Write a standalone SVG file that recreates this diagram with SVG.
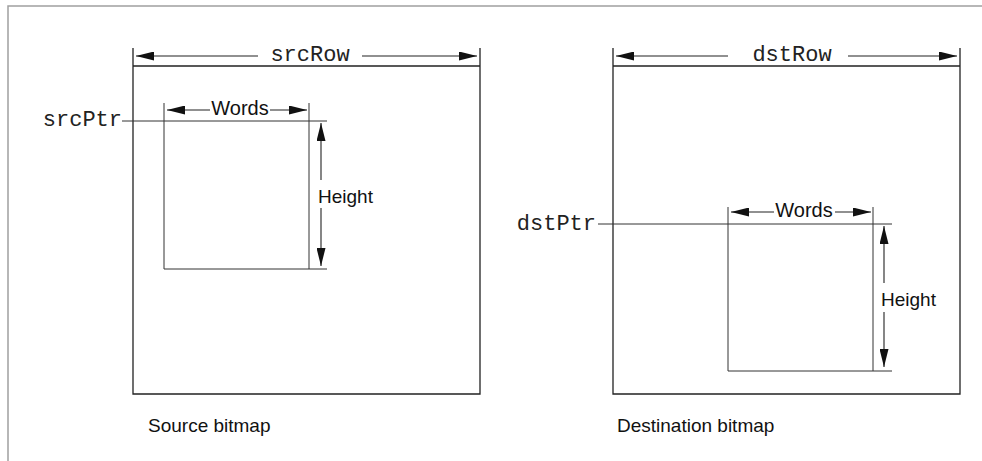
<svg xmlns="http://www.w3.org/2000/svg" width="982" height="461" viewBox="0 0 982 461">
<defs>
<style>
.frame{stroke:#a0a0a0;stroke-width:1.5;fill:none}
.box{stroke:#222;stroke-width:1.3;fill:none}
.thin{stroke:#333;stroke-width:1;fill:none}
.dim{stroke:#222;stroke-width:1.1;fill:none}
.mono{font-family:"Liberation Mono","Courier New",monospace;font-size:22px;fill:#222}
.sans{font-family:"Liberation Sans",Arial,sans-serif;font-size:20px;fill:#111}
.ht{font-family:"Liberation Sans",Arial,sans-serif;font-size:19px;fill:#111}
.cap{font-family:"Liberation Sans",Arial,sans-serif;font-size:19px;fill:#111}
</style>
<marker id="ah" viewBox="0 0 18 9" refX="18" refY="4.5" markerWidth="18" markerHeight="9" markerUnits="userSpaceOnUse" orient="auto-start-reverse">
<path d="M0,0 L18,4.5 L0,9 z" fill="#111"/>
</marker>
</defs>
<rect width="982" height="461" fill="#fff"/>
<path class="frame" d="M8,461 V6 H982"/>

<g id="source-bitmap">
<path class="box" d="M133,48 V394 H480 V48 M133,66 H480"/>
<path class="thin" d="M122,121 H327 M164,103 V269 H327 M309,103 V269"/>
<text class="mono" x="310" y="61" text-anchor="middle">srcRow</text>
<text class="mono" x="122" y="126" text-anchor="end">srcPtr</text>
<text class="sans" x="240" y="115" text-anchor="middle">Words</text>
<text class="ht" x="318" y="203">Height</text>
<text class="cap" x="148" y="432">Source bitmap</text>
</g>

<g id="destination-bitmap">
<path class="box" d="M613,48 V394 H960 V48 M613,66 H960"/>
<path class="thin" d="M598,224 H892 M728,207 V371 H892 M873,207 V371"/>
<text class="mono" x="792" y="61" text-anchor="middle">dstRow</text>
<text class="mono" x="596" y="230" text-anchor="end">dstPtr</text>
<text class="sans" x="804" y="217" text-anchor="middle">Words</text>
<text class="ht" x="881" y="306">Height</text>
<text class="cap" x="617" y="432">Destination bitmap</text>
</g>

<g id="connectors">
<line class="dim" x1="258" y1="56" x2="136" y2="56" marker-end="url(#ah)"/>
<line class="dim" x1="362" y1="56" x2="477" y2="56" marker-end="url(#ah)"/>
<line class="dim" x1="728" y1="56" x2="616" y2="56" marker-end="url(#ah)"/>
<line class="dim" x1="848" y1="56" x2="957" y2="56" marker-end="url(#ah)"/>
<line class="dim" x1="210" y1="110" x2="167" y2="110" marker-end="url(#ah)"/>
<line class="dim" x1="270" y1="110" x2="307" y2="110" marker-end="url(#ah)"/>
<line class="dim" x1="774" y1="212" x2="731" y2="212" marker-end="url(#ah)"/>
<line class="dim" x1="835" y1="212" x2="871" y2="212" marker-end="url(#ah)"/>
<line class="dim" x1="321" y1="180" x2="321" y2="123" marker-end="url(#ah)"/>
<line class="dim" x1="321" y1="208" x2="321" y2="266" marker-end="url(#ah)"/>
<line class="dim" x1="884" y1="283" x2="884" y2="226" marker-end="url(#ah)"/>
<line class="dim" x1="884" y1="312" x2="884" y2="367" marker-end="url(#ah)"/>
</g>
</svg>
